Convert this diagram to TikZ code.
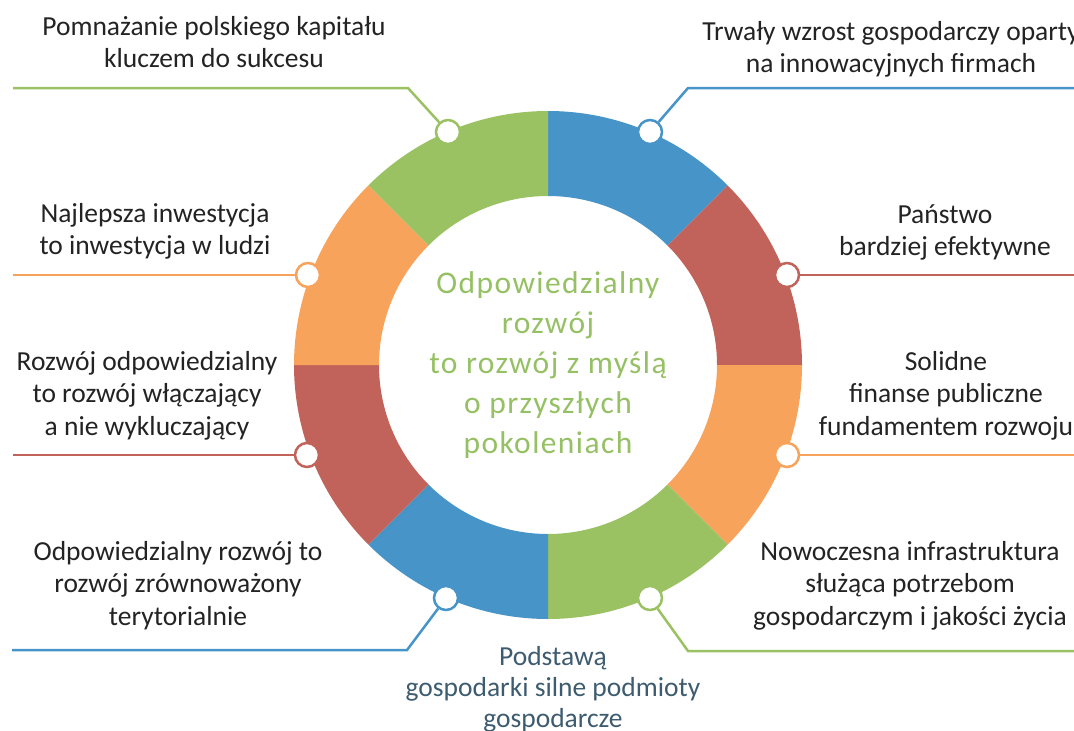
\documentclass[tikz,border=0pt]{standalone}
\usepackage{fontspec}
\setmainfont{Carlito}
\newfontfamily\centerfont[LetterSpace=4.5]{Carlito}
\usetikzlibrary{calc}
\definecolor{cgreen}{RGB}{155,194,98}
\definecolor{cblue}{RGB}{70,148,200}
\definecolor{cred}{RGB}{193,99,90}
\definecolor{corange}{RGB}{248,163,92}
\definecolor{ctext}{RGB}{35,35,35}
\definecolor{ccenter}{RGB}{150,192,100}
\definecolor{cbottom}{RGB}{62,92,112}
\newcommand\mylines[1]{\vtop{\let\\\cr\halign{\hfil##\hfil\cr#1\crcr}}}
\begin{document}
\begin{tikzpicture}[x=1pt,y=-1pt,
  lbl/.style={anchor=base, inner sep=0pt, text=ctext, font=\fontsize{27.5}{32.5}\selectfont},
  ctr/.style={anchor=base, inner sep=0pt, text=ccenter, font=\centerfont\fontsize{31.5}{40}\selectfont},
  bot/.style={anchor=base, inner sep=0pt, text=cbottom, font=\fontsize{27.5}{31}\selectfont},
  conn/.style={line width=2.5pt},
  dot/.style={circle, draw=#1, fill=white, line width=2.5pt, minimum size=24pt, inner sep=0pt},
  seg/.style={fill=#1}]
\useasboundingbox (0,0) rectangle (1074,731);
\clip (0,0) rectangle (1074,731);
\coordinate (C) at (548,365);
\def\Ro{254}\def\Ri{169}
% ring segments (y axis points down)
\foreach \a/\b/\c in {-90/-45/cblue, -45/0/cred, 0/45/corange, 45/90/cgreen,
                      90/135/cblue, 135/180/cred, 180/225/corange, 225/270/cgreen}{
  \fill[seg=\c] ($(C)+(\a:\Ro)$) arc[start angle=\a, end angle=\b, radius=\Ro]
     -- ($(C)+(\b:\Ri)$) arc[start angle=\b, end angle=\a, radius=\Ri] -- cycle;
}
% connector coordinates
\coordinate (b1) at (408,88);  \coordinate (e1) at (13,88);
\coordinate (b2) at (688,88);  \coordinate (e2) at (1074,88);
\coordinate (e3) at (13,275);
\coordinate (e4) at (1074,275);
\coordinate (e5) at (13,455);
\coordinate (e6) at (1074,455);
\coordinate (b7) at (407,650); \coordinate (e7) at (12,650);
\coordinate (b8) at (688,651); \coordinate (e8) at (1074,651);
% dots
\node[dot=cgreen]  (p1) at (448,132) {};
\node[dot=cblue]   (p2) at (650,132) {};
\node[dot=corange] (p3) at (308,275) {};
\node[dot=cred]    (p4) at (787,275) {};
\node[dot=cred]    (p5) at (307,455) {};
\node[dot=corange] (p6) at (787,455) {};
\node[dot=cblue]   (p7) at (446,598) {};
\node[dot=cgreen]  (p8) at (650,598) {};
% connectors
\draw[conn, cgreen]  (p1) -- (b1) -- (e1);
\draw[conn, cblue]   (p2) -- (b2) -- (e2);
\draw[conn, corange] (p3) -- (e3);
\draw[conn, cred]    (p4) -- (e4);
\draw[conn, cred]    (p5) -- (e5);
\draw[conn, corange] (p6) -- (e6);
\draw[conn, cblue]   (p7) -- (b7) -- (e7);
\draw[conn, cgreen]  (p8) -- (b8) -- (e8);
% labels
\node[lbl] (t1) at (214,35)  {\mylines{Pomnażanie polskiego kapitału\\kluczem do sukcesu}};
\node[lbl] (t2) at (891,40)  {\mylines{Trwały wzrost gospodarczy oparty\\na innowacyjnych firmach}};
\node[lbl] (t3) at (155,222) {\mylines{Najlepsza inwestycja\\to inwestycja w ludzi}};
\node[lbl] (t4) at (945,223) {\mylines{Państwo\\bardziej efektywne}};
\node[lbl] (t5) at (147,370) {\mylines{Rozwój odpowiedzialny\\to rozwój włączający\\a nie wykluczający}};
\node[lbl] (t6) at (946,370) {\mylines{Solidne\\finanse publiczne\\fundamentem rozwoju}};
\node[lbl] (t7) at (178,560) {\mylines{Odpowiedzialny rozwój to\\rozwój zrównoważony\\terytorialnie}};
\node[lbl] (t8) at (910,560) {\mylines{Nowoczesna infrastruktura\\służąca potrzebom\\gospodarczym i jakości życia}};
\node[bot] (t9) at (553,665) {\mylines{Podstawą\\gospodarki silne podmioty\\gospodarcze}};
\node[ctr] (t0) at (548,293) {\mylines{Odpowiedzialny\\rozwój\\to rozwój z myślą\\o przyszłych\\pokoleniach}};
\end{tikzpicture}
\end{document}
